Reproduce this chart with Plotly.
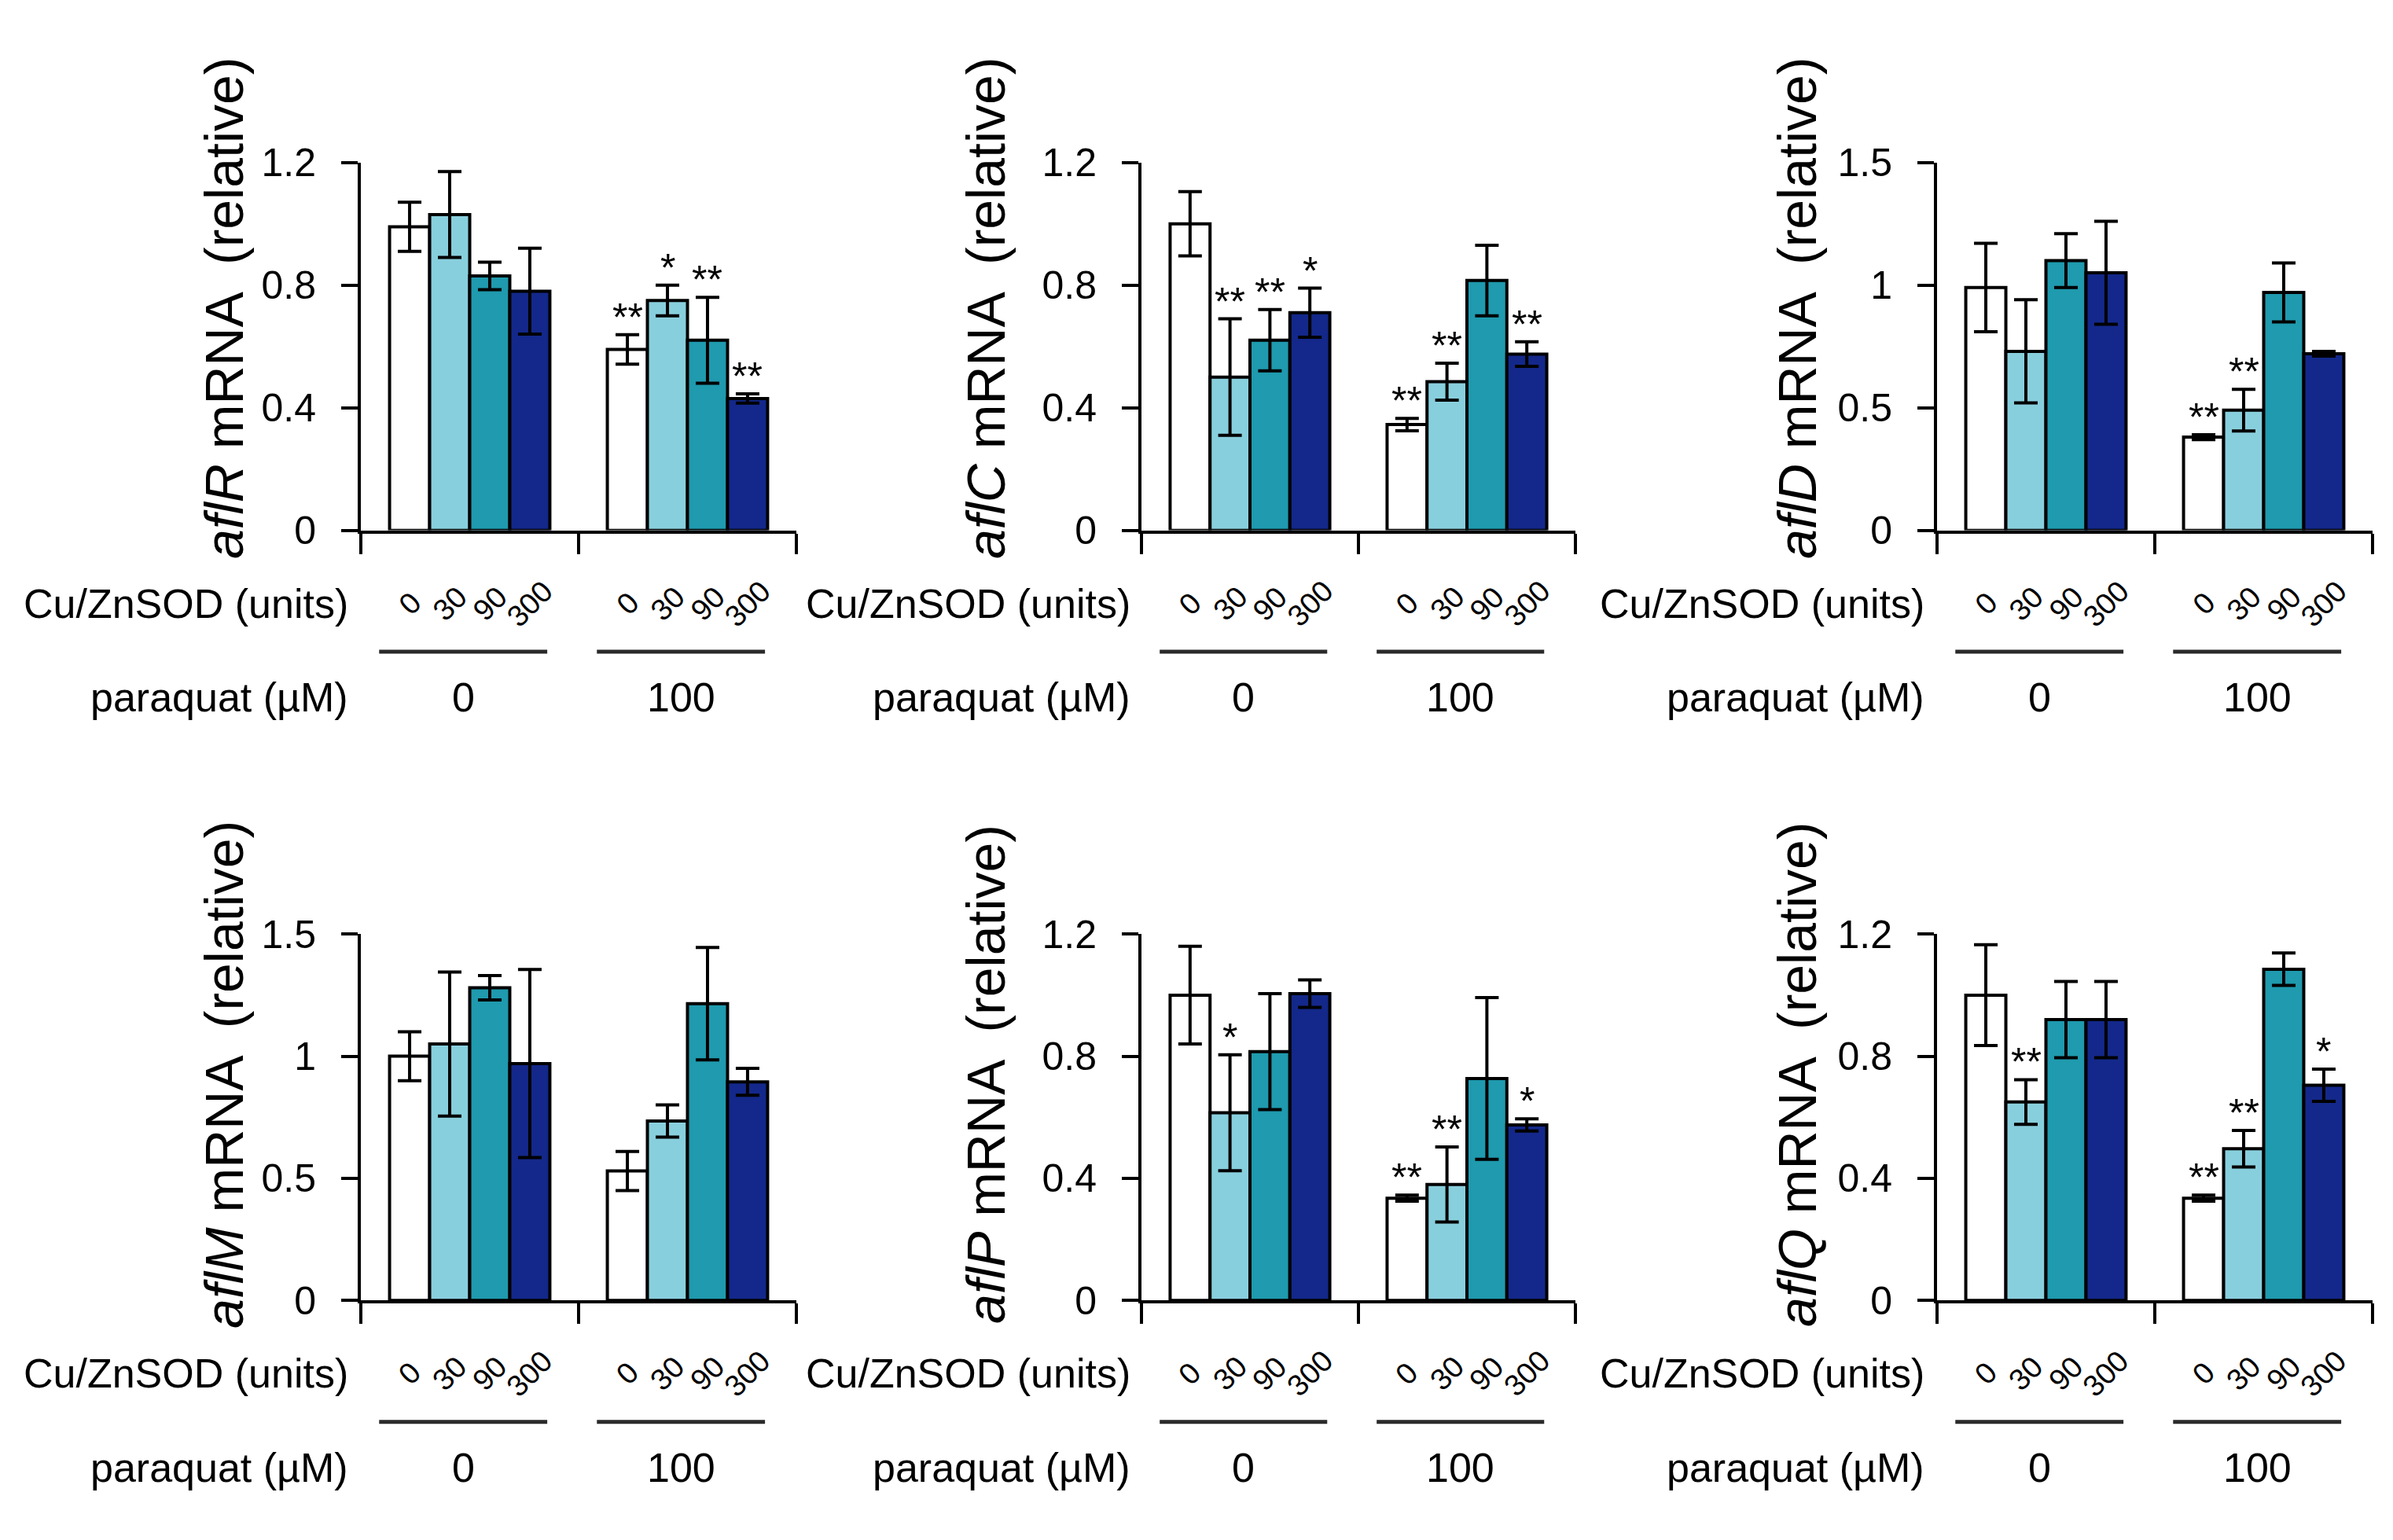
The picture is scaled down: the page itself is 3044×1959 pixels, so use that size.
import plotly.graph_objects as go

# ---------------- data ----------------
genes = ["aflR", "aflC", "aflD", "aflM", "aflP", "aflQ"]
sod_units = ["0", "30", "90", "300"]
paraquat_levels = ["0", "100"]
bar_colors = ["#FFFFFF", "#88CFDD", "#1F9AAE", "#13288A"]

y_max = [1.2, 1.2, 1.5, 1.5, 1.2, 1.2]
y_ticks = [[0, 0.4, 0.8, 1.2], [0, 0.4, 0.8, 1.2], [0, 0.5, 1, 1.5],
           [0, 0.5, 1, 1.5], [0, 0.4, 0.8, 1.2], [0, 0.4, 0.8, 1.2]]
y_ticktext = [["0", "0.4", "0.8", "1.2"], ["0", "0.4", "0.8", "1.2"], ["0", "0.5", "1", "1.5"],
              ["0", "0.5", "1", "1.5"], ["0", "0.4", "0.8", "1.2"], ["0", "0.4", "0.8", "1.2"]]

# mean values: [paraquat 0 group, paraquat 100 group], each with SOD 0/30/90/300
aflR_mean = [[0.99, 1.03, 0.83, 0.78], [0.59, 0.75, 0.62, 0.43]]
aflR_err = [[0.08, 0.14, 0.045, 0.14], [0.048, 0.05, 0.14, 0.015]]
aflR_sig = [["", "", "", ""], ["**", "*", "**", "**"]]

aflC_mean = [[1.00, 0.50, 0.62, 0.71], [0.345, 0.485, 0.815, 0.575]]
aflC_err = [[0.105, 0.19, 0.10, 0.08], [0.02, 0.06, 0.115, 0.04]]
aflC_sig = [["", "**", "**", "*"], ["**", "**", "", "**"]]

aflD_mean = [[0.99, 0.73, 1.10, 1.05], [0.38, 0.49, 0.97, 0.72]]
aflD_err = [[0.18, 0.21, 0.11, 0.21], [0.01, 0.085, 0.12, 0.01]]
aflD_sig = [["", "", "", ""], ["**", "**", "", ""]]

aflM_mean = [[1.00, 1.05, 1.28, 0.97], [0.53, 0.735, 1.215, 0.895]]
aflM_err = [[0.10, 0.295, 0.05, 0.385], [0.08, 0.066, 0.23, 0.055]]
aflM_sig = [["", "", "", ""], ["", "", "", ""]]

aflP_mean = [[1.00, 0.615, 0.815, 1.005], [0.335, 0.38, 0.727, 0.575]]
aflP_err = [[0.16, 0.19, 0.19, 0.045], [0.01, 0.123, 0.265, 0.02]]
aflP_sig = [["", "*", "", ""], ["**", "**", "", "*"]]

aflQ_mean = [[1.00, 0.65, 0.92, 0.92], [0.335, 0.497, 1.085, 0.705]]
aflQ_err = [[0.165, 0.073, 0.125, 0.125], [0.01, 0.06, 0.053, 0.053]]
aflQ_sig = [["", "**", "", ""], ["**", "**", "", "*"]]

means = [aflR_mean, aflC_mean, aflD_mean, aflM_mean, aflP_mean, aflQ_mean]
errs = [aflR_err, aflC_err, aflD_err, aflM_err, aflP_err, aflQ_err]
sigs = [aflR_sig, aflC_sig, aflD_sig, aflM_sig, aflP_sig, aflQ_sig]

# ---------------- layout (pixels) ----------------
W, H = 3044, 1959
col_left = [459, 1452, 2464]
col_right = [1013, 2004, 3018]
row_top = [184, 1195]
row_bottom = [666, 1675]
title_x = [285, 1254, 2286]
title_y = [375, 1379]
label_right = [445, 1440, 2450]

FONT = "Liberation Sans, Arial, sans-serif"
bargap = 0.264
n_sod = len(sod_units)
bar_w = (1 - bargap) / n_sod
line_half = 0.386
line_shift = -0.03


def px_x(p):
    return p / W


def px_y(p):
    return 1 - p / H


fig = go.Figure()
layout = dict(width=W, height=H, margin=dict(l=0, r=0, t=0, b=0),
              paper_bgcolor="white", plot_bgcolor="white",
              barmode="group", bargap=bargap, bargroupgap=0,
              showlegend=False, font=dict(family=FONT, color="black"))
annotations = []
shapes = []

group_x = [g + 0.5 for g in range(len(paraquat_levels))]

for k, gene in enumerate(genes):
    r, c = divmod(k, 3)
    s = "" if k == 0 else str(k + 1)
    xa, ya = "x" + s, "y" + s

    for j in range(n_sod):
        fig.add_trace(go.Bar(
            x=group_x,
            y=[means[k][g][j] for g in range(len(paraquat_levels))],
            error_y=dict(type="data", array=[errs[k][g][j] for g in range(len(paraquat_levels))],
                         color="black", thickness=4, width=15, visible=True),
            marker=dict(color=bar_colors[j], line=dict(color="black", width=4)),
            xaxis=xa, yaxis=ya, showlegend=False, name=sod_units[j] + " units",
        ))

    layout["xaxis" + s] = dict(
        domain=[px_x(col_left[c]), px_x(col_right[c])], range=[0, 2], anchor=ya,
        tickvals=[0, 1, 2], showticklabels=False, ticks="outside", ticklen=26,
        tickwidth=4, tickcolor="black", showline=True, linewidth=4, linecolor="black",
        showgrid=False, zeroline=False)
    layout["yaxis" + s] = dict(
        domain=[px_y(row_bottom[r]), px_y(row_top[r])], range=[0, y_max[k]], anchor=xa,
        tickvals=y_ticks[k], ticktext=y_ticktext[k], ticks="outside", ticklen=21,
        tickwidth=4, tickcolor="black", showline=True, linewidth=4, linecolor="black",
        showgrid=False, zeroline=False, tickfont=dict(size=50, family=FONT, color="black"),
        ticklabelstandoff=22)

    zero_px = row_bottom[r]

    # y-axis title
    annotations.append(dict(
        text="<i>" + gene + "</i> mRNA  (relative)", textangle=-90,
        xref="paper", yref="paper", x=px_x(title_x[c]), y=px_y(title_y[r]),
        xanchor="center", yanchor="middle", showarrow=False,
        font=dict(size=68, family=FONT, color="black")))

    # row labels
    annotations.append(dict(
        text="Cu/ZnSOD (units)", xref="paper", yref="paper",
        x=px_x(label_right[c]), y=px_y(zero_px + 96), xanchor="right", yanchor="middle",
        showarrow=False, font=dict(size=52, family=FONT, color="black")))
    annotations.append(dict(
        text="paraquat (µM)", xref="paper", yref="paper",
        x=px_x(label_right[c]), y=px_y(zero_px + 219), xanchor="right", yanchor="middle",
        showarrow=False, font=dict(size=52, family=FONT, color="black")))

    for g, pq in enumerate(paraquat_levels):
        gc = group_x[g]
        for j in range(n_sod):
            bx = gc + (j - (n_sod - 1) / 2) * bar_w
            annotations.append(dict(
                text=sod_units[j], xref=xa, yref="paper", x=bx, y=px_y(zero_px + 96),
                xanchor="center", yanchor="middle", textangle=-45, showarrow=False,
                font=dict(size=38, family=FONT, color="black")))
            if sigs[k][g][j]:
                annotations.append(dict(
                    text=sigs[k][g][j], xref=xa, yref=ya, x=bx,
                    y=means[k][g][j] + errs[k][g][j], xanchor="center", yanchor="bottom",
                    yshift=-8, showarrow=False,
                    font=dict(size=50, family=FONT, color="black")))
        shapes.append(dict(
            type="line", xref=xa, yref="paper",
            x0=gc + line_shift - line_half, x1=gc + line_shift + line_half,
            y0=px_y(zero_px + 159), y1=px_y(zero_px + 159),
            line=dict(color="#2a2a2a", width=5)))
        annotations.append(dict(
            text=pq, xref=xa, yref="paper", x=gc + line_shift, y=px_y(zero_px + 219),
            xanchor="center", yanchor="middle", showarrow=False,
            font=dict(size=52, family=FONT, color="black")))

layout["annotations"] = annotations
layout["shapes"] = shapes
fig.update_layout(**layout)
fig.write_html("out.html", post_script="document.body.style.margin='0px';",
               config={"displayModeBar": False})
